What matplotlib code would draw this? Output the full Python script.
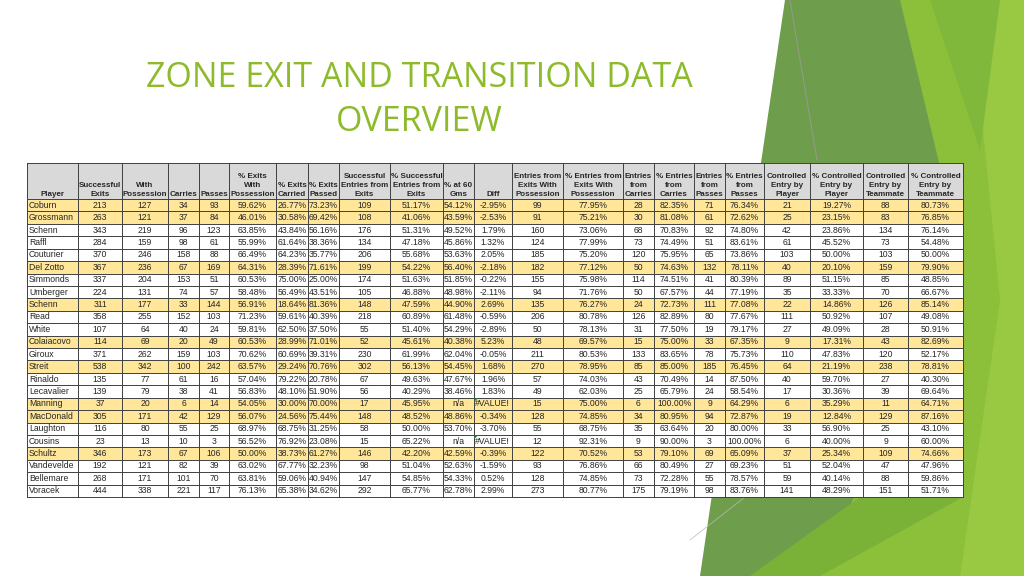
import numpy as np
import matplotlib
matplotlib.use("Agg")
import matplotlib.pyplot as plt
from matplotlib.patches import Polygon, Rectangle

nan = np.nan
players = ["Coburn", "Grossmann", "Schenn", "Raffl", "Couturier", "Del Zotto", "Simmonds", "Umberger",
           "Schenn", "Read", "White", "Colaiacovo", "Giroux", "Streit", "Rinaldo", "Lecavalier",
           "Manning", "MacDonald", "Laughton", "Cousins", "Schultz", "Vandevelde", "Bellemare", "Voracek"]
highlight = [1, 1, 0, 0, 0, 1, 0, 0, 1, 0, 0, 1, 0, 1, 0, 0, 1, 1, 0, 0, 1, 0, 0, 0]
succ_exits = [213, 263, 343, 284, 370, 367, 337, 224, 311, 358, 107, 114, 371, 538, 135, 139, 37, 305, 116, 23, 346, 192, 268, 444]
with_poss = [127, 121, 219, 159, 246, 236, 204, 131, 177, 255, 64, 69, 262, 342, 77, 79, 20, 171, 80, 13, 173, 121, 171, 338]
carries = [34, 37, 96, 98, 158, 67, 153, 74, 33, 152, 40, 20, 159, 100, 61, 38, 6, 42, 55, 10, 67, 82, 101, 221]
passes = [93, 84, 123, 61, 88, 169, 51, 57, 144, 103, 24, 49, 103, 242, 16, 41, 14, 129, 25, 3, 106, 39, 70, 117]
pct_with_poss = [59.62, 46.01, 63.85, 55.99, 66.49, 64.31, 60.53, 58.48, 56.91, 71.23, 59.81, 60.53, 70.62, 63.57, 57.04, 56.83, 54.05, 56.07, 68.97, 56.52, 50.00, 63.02, 63.81, 76.13]
pct_carried = [26.77, 30.58, 43.84, 61.64, 64.23, 28.39, 75.00, 56.49, 18.64, 59.61, 62.50, 28.99, 60.69, 29.24, 79.22, 48.10, 30.00, 24.56, 68.75, 76.92, 38.73, 67.77, 59.06, 65.38]
pct_passed = [73.23, 69.42, 56.16, 38.36, 35.77, 71.61, 25.00, 43.51, 81.36, 40.39, 37.50, 71.01, 39.31, 70.76, 20.78, 51.90, 70.00, 75.44, 31.25, 23.08, 61.27, 32.23, 40.94, 34.62]
succ_entries = [109, 108, 176, 134, 206, 199, 174, 105, 148, 218, 55, 52, 230, 302, 67, 56, 17, 148, 58, 15, 146, 98, 147, 292]
pct_succ_entries = [51.17, 41.06, 51.31, 47.18, 55.68, 54.22, 51.63, 46.88, 47.59, 60.89, 51.40, 45.61, 61.99, 56.13, 49.63, 40.29, 45.95, 48.52, 50.00, 65.22, 42.20, 51.04, 54.85, 65.77]
pct_at_60 = [54.12, 43.59, 49.52, 45.86, 53.63, 56.40, 51.85, 48.98, 44.90, 61.48, 54.29, 40.38, 62.04, 54.45, 47.67, 38.46, nan, 48.86, 53.70, nan, 42.59, 52.63, 54.33, 62.78]
diff = [-2.95, -2.53, 1.79, 1.32, 2.05, -2.18, -0.22, -2.11, 2.69, -0.59, -2.89, 5.23, -0.05, 1.68, 1.96, 1.83, nan, -0.34, -3.70, nan, -0.39, -1.59, 0.52, 2.99]
entries_wp = [99, 91, 160, 124, 185, 182, 155, 94, 135, 206, 50, 48, 211, 270, 57, 49, 15, 128, 55, 12, 122, 93, 128, 273]
pct_entries_wp = [77.95, 75.21, 73.06, 77.99, 75.20, 77.12, 75.98, 71.76, 76.27, 80.78, 78.13, 69.57, 80.53, 78.95, 74.03, 62.03, 75.00, 74.85, 68.75, 92.31, 70.52, 76.86, 74.85, 80.77]
entries_carries = [28, 30, 68, 73, 120, 50, 114, 50, 24, 126, 31, 15, 133, 85, 43, 25, 6, 34, 35, 9, 53, 66, 73, 175]
pct_entries_carries = [82.35, 81.08, 70.83, 74.49, 75.95, 74.63, 74.51, 67.57, 72.73, 82.89, 77.50, 75.00, 83.65, 85.00, 70.49, 65.79, 100.00, 80.95, 63.64, 90.00, 79.10, 80.49, 72.28, 79.19]
entries_passes = [71, 61, 92, 51, 65, 132, 41, 44, 111, 80, 19, 33, 78, 185, 14, 24, 9, 94, 20, 3, 69, 27, 55, 98]
pct_entries_passes = [76.34, 72.62, 74.80, 83.61, 73.86, 78.11, 80.39, 77.19, 77.08, 77.67, 79.17, 67.35, 75.73, 76.45, 87.50, 58.54, 64.29, 72.87, 80.00, 100.00, 65.09, 69.23, 78.57, 83.76]
ctrl_player = [21, 25, 42, 61, 103, 40, 89, 35, 22, 111, 27, 9, 110, 64, 40, 17, 6, 19, 33, 6, 37, 51, 59, 141]
pct_ctrl_player = [19.27, 23.15, 23.86, 45.52, 50.00, 20.10, 51.15, 33.33, 14.86, 50.92, 49.09, 17.31, 47.83, 21.19, 59.70, 30.36, 35.29, 12.84, 56.90, 40.00, 25.34, 52.04, 40.14, 48.29]
ctrl_team = [88, 83, 134, 73, 103, 159, 85, 70, 126, 107, 28, 43, 120, 238, 27, 39, 11, 129, 25, 9, 109, 47, 88, 151]
pct_ctrl_team = [80.73, 76.85, 76.14, 54.48, 50.00, 79.90, 48.85, 66.67, 85.14, 49.08, 50.91, 82.69, 52.17, 78.81, 40.30, 69.64, 64.71, 87.16, 43.10, 60.00, 74.66, 47.96, 59.86, 51.71]

headers = ["Player", "Successful\nExits", "With\nPossession", "Carries", "Passes",
           "% Exits\nWith\nPossession", "% Exits\nCarried", "% Exits\nPassed",
           "Successful\nEntries from\nExits", "% Successful\nEntries from\nExits", "% at 60\nGms", "Diff",
           "Entries from\nExits With\nPossession", "% Entries from\nExits With\nPossession",
           "Entries\nfrom\nCarries", "% Entries\nfrom\nCarries", "Entries\nfrom\nPasses", "% Entries\nfrom\nPasses",
           "Controlled\nEntry by\nPlayer", "% Controlled\nEntry by\nPlayer",
           "Controlled\nEntry by\nTeammate", "% Controlled\nEntry by\nTeammate"]

columns = [succ_exits, with_poss, carries, passes, pct_with_poss, pct_carried, pct_passed,
           succ_entries, pct_succ_entries, pct_at_60, diff, entries_wp, pct_entries_wp,
           entries_carries, pct_entries_carries, entries_passes, pct_entries_passes,
           ctrl_player, pct_ctrl_player, ctrl_team, pct_ctrl_team]
is_pct = [0, 0, 0, 0, 1, 1, 1, 0, 1, 1, 2, 0, 1, 0, 1, 0, 1, 0, 1, 0, 1]

# layout (pixels)
xb = [27, 78, 122, 168, 199, 229, 276, 308, 339, 390, 443, 474, 512, 563, 623, 654, 694, 725, 764, 810, 863, 908, 963]
y_top, y_head, y_bot = 163, 199, 497
n = len(players)
rh = (y_bot - y_head) / n

fig = plt.figure(figsize=(10.24, 5.76), dpi=100)
ax = fig.add_axes([0, 0, 1, 1])
ax.set_xlim(0, 1024)
ax.set_ylim(576, 0)
ax.axis("off")

# background decorative shapes
shapes = [
    ([(785, 0), (925, 0), (960, 300), (860, 576), (700, 576)], "#6e9e4c"),
    ([(900, 0), (1024, 0), (1024, 576), (820, 576), (960, 250)], "#8cbf3a"),
    ([(970, 0), (1024, 0), (1024, 576), (960, 576), (1000, 300)], "#99c842"),
    ([(963, 390), (963, 497), (820, 576), (750, 576), (860, 497)], "#79b236"),
    ([(930, 0), (1000, 0), (980, 150)], "#7fb83a"),
]
for pts, c in shapes:
    ax.add_patch(Polygon(pts, closed=True, color=c, lw=0, zorder=0))
ax.plot([790, 817], [0, 160], color="#9a9a9a", lw=0.6, zorder=1)
ax.plot([745, 690], [497, 540], color="#bbbbbb", lw=0.5, zorder=1)

title_color = "#8dbb2c"
ax.text(419, 78, "ZONE EXIT AND TRANSITION DATA", color=title_color, fontsize=24.5,
        family="Open Sans", ha="center", va="center", zorder=3)
ax.text(419, 122, "OVERVIEW", color=title_color, fontsize=24.5,
        family="Open Sans", ha="center", va="center", zorder=3)

# table
ax.add_patch(Rectangle((xb[0], y_top), xb[-1] - xb[0], y_bot - y_top, facecolor="white", lw=0, zorder=2))
ax.add_patch(Rectangle((xb[0], y_top), xb[-1] - xb[0], y_head - y_top, facecolor="#d9d9d9", lw=0, zorder=2))
for i in range(n):
    if highlight[i]:
        ax.add_patch(Rectangle((xb[0], y_head + i * rh), xb[-1] - xb[0], rh,
                               facecolor="#ffe699", lw=0, zorder=2))

lc = "#404040"
for x in xb:
    ax.plot([x, x], [y_top, y_bot], color=lc, lw=0.7, zorder=3)
ax.plot([xb[0], xb[-1]], [y_top, y_top], color=lc, lw=0.7, zorder=3)
for i in range(n + 1):
    y = y_head + i * rh
    ax.plot([xb[0], xb[-1]], [y, y], color=lc, lw=0.7, zorder=3)

fs = 6.2
tc = "#262626"
fam = "Liberation Sans"
for j, h in enumerate(headers):
    cx = (xb[j] + xb[j + 1]) / 2
    ax.text(cx, y_head - 1.5, h, ha="center", va="bottom", fontsize=5.8, fontweight="bold",
            family=fam, color=tc, linespacing=1.3, zorder=4)

def fmt(v, kind):
    if kind == 0:
        return str(int(v))
    if np.isnan(v):
        return "n/a" if kind == 1 else "#VALUE!"
    return f"{v:.2f}%"

for i in range(n):
    cy = y_head + (i + 0.5) * rh
    ax.text(xb[0] + 2, cy, players[i], ha="left", va="center", fontsize=fs, family=fam, color=tc, zorder=4)
    for j, col in enumerate(columns):
        s = fmt(col[i], is_pct[j])
        x0, x1 = xb[j + 1], xb[j + 2]
        if s == "#VALUE!":
            t = ax.text(x0 + 1, cy, s, ha="left", va="center", fontsize=fs, family=fam, color=tc, zorder=4)
            t.set_clip_path(Rectangle((x0, cy - rh / 2), x1 - x0, rh, transform=ax.transData))
            ax.add_patch(Polygon([(x0 + 0.5, cy - rh / 2 + 0.5), (x0 + 4, cy - rh / 2 + 0.5),
                                  (x0 + 0.5, cy - rh / 2 + 4)], color="#1e8a3a", lw=0, zorder=5))
        else:
            ax.text((x0 + x1) / 2, cy, s, ha="center", va="center", fontsize=fs, family=fam,
                    color=tc, zorder=4)

fig.savefig("out.png", dpi=100)
